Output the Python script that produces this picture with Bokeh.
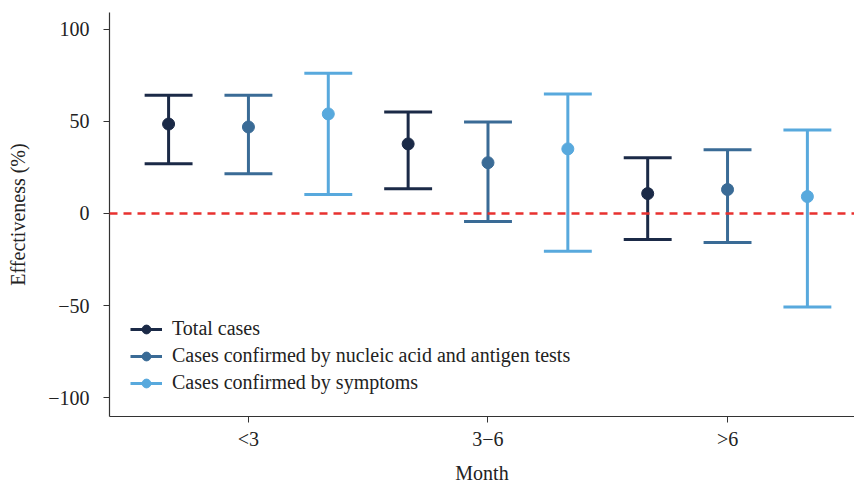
from bokeh.plotting import figure
from bokeh.models import ColumnDataSource, Span, FixedTicker, Legend, LegendItem
from bokeh.embed import file_html
from bokeh.resources import INLINE

months = ["<3", "3\u22126", ">6"]
series = ["Total cases",
          "Cases confirmed by nucleic acid and antigen tests",
          "Cases confirmed by symptoms"]
colors = ["#1b2a47", "#3a6b96", "#58a9dd"]

est = {
    "Total cases": [48.6, 37.8, 10.8],
    "Cases confirmed by nucleic acid and antigen tests": [47.0, 27.6, 13.0],
    "Cases confirmed by symptoms": [54.1, 35.1, 9.2],
}
lower = {
    "Total cases": [27.0, 13.5, -14.1],
    "Cases confirmed by nucleic acid and antigen tests": [21.6, -4.3, -15.7],
    "Cases confirmed by symptoms": [10.3, -20.5, -50.8],
}
upper = {
    "Total cases": [64.3, 55.1, 30.3],
    "Cases confirmed by nucleic acid and antigen tests": [64.3, 49.7, 34.6],
    "Cases confirmed by symptoms": [76.2, 64.9, 45.4],
}

offsets = [-1/3, 0, 1/3]
cap = 0.1
FONT = "Liberation Serif"
FS = "20px"

p = figure(width=854, height=486, output_backend="svg", toolbar_location=None,
           x_range=(0.42, 3.53), y_range=(-110.3, 109.2),
           min_border_left=109, min_border_top=12, min_border_bottom=68, min_border_right=0)
p.outline_line_color = None
p.grid.grid_line_color = None
p.background_fill_color = "white"

p.add_layout(Span(location=0, dimension="width", line_color="#e8312f",
                  line_dash="8 6", line_width=2.5))

items = []
for s, c, off in zip(series, colors, offsets):
    xs = [i + 1 + off for i in range(len(months))]
    src = ColumnDataSource(dict(x=xs, y=est[s], lo=lower[s], hi=upper[s],
                                x0=[x - cap for x in xs], x1=[x + cap for x in xs]))
    stem = p.segment("x", "lo", "x", "hi", source=src, line_color=c, line_width=3)
    p.segment("x0", "lo", "x1", "lo", source=src, line_color=c, line_width=3)
    p.segment("x0", "hi", "x1", "hi", source=src, line_color=c, line_width=3)
    dot = p.scatter("x", "y", source=src, size=12, fill_color=c, line_color=c)
    items.append(LegendItem(label=s, renderers=[stem, dot]))

legend = Legend(items=items, location=(21, 22), background_fill_alpha=0,
                border_line_color=None, label_text_font=FONT,
                label_text_font_size=FS, label_text_color="#222222",
                glyph_width=32, glyph_height=22, label_height=22, spacing=4,
                padding=4, margin=0, label_standoff=10)
p.add_layout(legend, "center")

xax = p.xaxis[0]
yax = p.yaxis[0]
xax.ticker = FixedTicker(ticks=[1, 2, 3])
xax.major_label_overrides = {1: months[0], 2: months[1], 3: months[2]}
yax.ticker = FixedTicker(ticks=[-100, -50, 0, 50, 100])
yax.major_label_overrides = {-100: "\u2212100", -50: "\u221250", 0: "0", 50: "50", 100: "100"}
xax.axis_label = "Month"
yax.axis_label = "Effectiveness (%)"
for ax in (xax, yax):
    ax.axis_line_color = "#333333"
    ax.axis_line_width = 1.2
    ax.major_tick_line_color = "#333333"
    ax.major_tick_out = 6
    ax.major_tick_in = 0
    ax.minor_tick_line_color = None
    ax.major_label_text_font = FONT
    ax.major_label_text_font_size = FS
    ax.major_label_text_color = "#222222"
    ax.axis_label_text_font = FONT
    ax.axis_label_text_font_size = FS
    ax.axis_label_text_font_style = "normal"
    ax.axis_label_text_color = "#222222"
xax.major_label_standoff = 5
xax.axis_label_standoff = 9
yax.major_label_standoff = 14
yax.axis_label_standoff = 16

open("out.html", "w").write(file_html(p, INLINE))
